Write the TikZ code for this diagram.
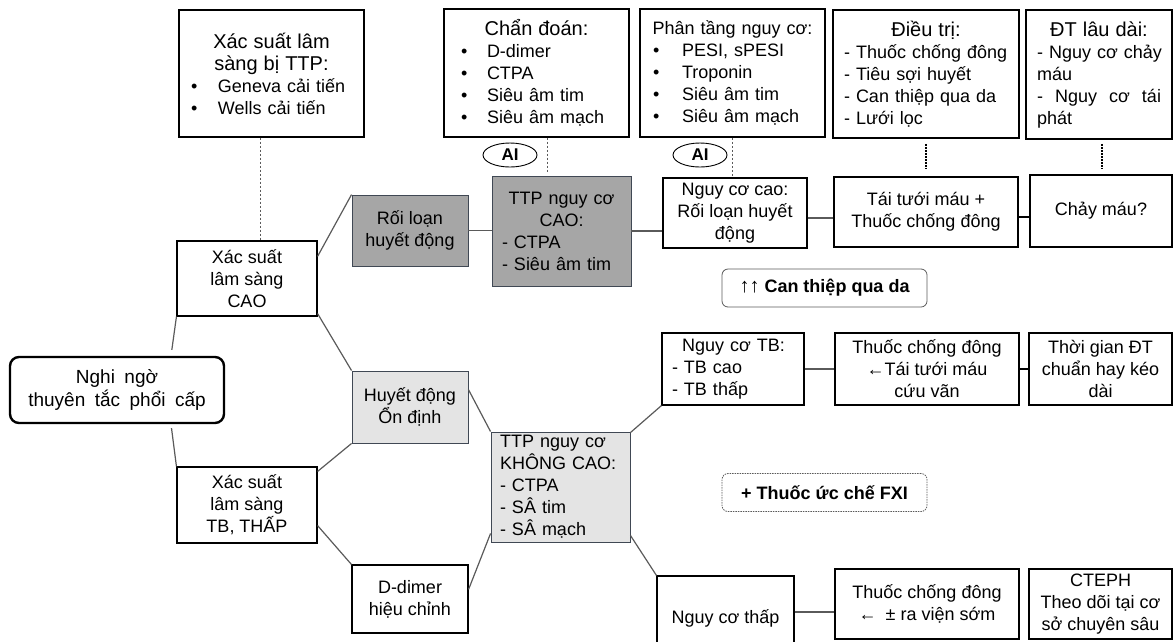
\documentclass[tikz,border=0pt]{standalone}
\usepackage{fontspec}
\setmainfont{Liberation Sans}
\usepackage{xcolor}
\usepackage{tikz}
\usetikzlibrary{calc,shapes.geometric}
\definecolor{FlowDarkGray}{RGB}{166,166,166}
\definecolor{FlowLightGray}{RGB}{228,228,228}
\definecolor{FlowEdge}{RGB}{64,72,84}
\definecolor{FlowLine}{RGB}{90,90,90}
\newcommand{\boxfont}{\fontsize{18}{22}\selectfont}
\newcommand{\bitem}[2][27pt]{\makebox[#1][l]{\textbullet}#2}
\newcommand{\ctitle}[1]{\makebox[\linewidth][c]{#1}}
\newcommand{\btitle}[1]{\makebox[\linewidth][c]{\fontsize{20}{22}\selectfont #1}}

\begin{document}
\begin{tikzpicture}[
x=1pt,y=-1pt,
box/.style={
draw=black,
line width=1.1pt,
inner sep=0pt,
align=center,
font=\boxfont
},
thickbox/.style={box,line width=1.8pt},
darkbox/.style={box,fill=FlowDarkGray,draw=FlowEdge,line width=0.9pt},
lightbox/.style={box,fill=FlowLightGray,draw=FlowEdge,line width=0.9pt},
note/.style={
draw=FlowLine,
line width=0.8pt,
rounded corners=6pt,
inner sep=0pt,
minimum width=205pt,
minimum height=38pt,
font=\fontsize{18}{20}\selectfont\bfseries
},
tag/.style={
ellipse,
draw=black,
line width=0.9pt,
inner sep=0pt,
minimum width=54pt,
minimum height=24pt,
font=\fontsize{17}{18}\selectfont\bfseries
},
link/.style={draw=FlowLine,line width=1.2pt},
joint/.style={draw=black,line width=2pt},
hint/.style={draw=FlowLine,line width=1.5pt,dash pattern=on 2pt off 2pt},
dense/.style={draw=black,line width=2pt,dash pattern=on 1.6pt off 1.4pt}
]
\useasboundingbox (0,0) rectangle (1174,641);

\node[box,align=left,text width=161pt,inner xsep=12pt,minimum height=127pt] (xstop) at (271.5,73.5)
{\btitle{Xác suất lâm}\\\btitle{sàng bị TTP:}\\\bitem{Geneva cải tiến}\\\bitem{Wells cải tiến}};
\node[box,align=left,text width=151pt,inner xsep=17pt,minimum height=128pt] (chandoan) at (536.5,73)
{\btitle{Chẩn đoán:}\\\bitem[26pt]{D-dimer}\\\bitem[26pt]{CTPA}\\\bitem[26pt]{Siêu âm tim}\\\bitem[26pt]{Siêu âm mạch}};
\node[thickbox,align=left,text width=159pt,inner xsep=13pt,minimum height=128pt] (phantang) at (732.5,73)
{\ctitle{Phân tầng nguy cơ:}\\\bitem[29pt]{PESI, sPESI}\\\bitem[29pt]{Troponin}\\\bitem[29pt]{Siêu âm tim}\\\bitem[29pt]{Siêu âm mạch}};
\node[thickbox,align=left,text width=164pt,inner xsep=11pt,minimum height=128pt] (dieutri) at (926,74)
{\btitle{Điều trị:}\\- Thuốc chống đông\\- Tiêu sợi huyết\\- Can thiệp qua da\\- Lưới lọc};
\node[thickbox,align=left,text width=124pt,inner xsep=11pt,minimum height=129pt] (dtlaudai) at (1099,74.5)
{\btitle{ĐT lâu dài:}\\\mbox{- Nguy cơ chảy}\\máu\\-\hfill Nguy\hfill cơ\hfill tái\\phát};

\node[tag] (ai1) at (510,155) {AI};
\node[tag] (ai2) at (700,155) {AI};

\node[thickbox,rounded corners=9pt,line width=2.4pt,minimum width=214pt,minimum height=66pt,
font=\fontsize{19}{23}\selectfont] (nghingo) at (117,390)
{Nghi\enspace ngờ\\thuyên\enspace tắc\enspace phổi\enspace cấp};

\node[box,minimum width=140pt,minimum height=75pt] (xscao) at (247,278.5) {Xác suất\\lâm sàng\\CAO};
\node[box,minimum width=140pt,minimum height=76pt] (xsthap) at (247,505) {Xác suất\\lâm sàng\\TB, THẤP};

\node[darkbox,minimum width=116pt,minimum height=71pt] (rlhd) at (410,230.5) {Rối loạn\\huyết động};
\node[lightbox,minimum width=116pt,minimum height=72pt] (hdod) at (410,407) {Huyết động\\Ổn định};
\node[box,minimum width=116pt,minimum height=68pt] (ddimer) at (410,599) {D-dimer\\hiệu chỉnh};

\node[darkbox,align=left,text width=119pt,inner xsep=10pt,minimum height=110pt] (ttpcao) at (561.5,231)
{\ctitle{TTP nguy cơ}\\\ctitle{CAO:}\\- CTPA\\- Siêu âm tim};
\node[lightbox,align=left,text width=121pt,inner xsep=9pt,minimum height=110pt] (ttpkc) at (560.5,487)
{TTP nguy cơ\\KHÔNG CAO:\\- CTPA\\- SÂ tim\\- SÂ mạch};

\node[box,minimum width=144pt,minimum height=70pt] (nccao) at (735,213) {Nguy cơ cao:\\Rối loạn huyết\\động};
\node[box,align=left,text width=122pt,inner xsep=10pt,minimum height=72pt] (nctb) at (733,369)
{\hspace*{10pt}Nguy cơ TB:\\- TB cao\\- TB thấp};
\node[box,minimum width=137pt,minimum height=84pt] (ncthap) at (725.5,618) {Nguy cơ thấp};

\node[note] (canthiep) at (824.5,288) {{\mdseries\fontsize{20}{20}\selectfont ↑↑} Can thiệp qua da};
\node[note,dash pattern=on 1.5pt off 1pt] (fxi) at (824.5,492.5) {+ Thuốc ức chế FXI};

\node[thickbox,minimum width=184pt,minimum height=70pt] (taituoi) at (926,212) {Tái tưới máu +\\Thuốc chống đông};
\node[thickbox,minimum width=184pt,minimum height=72pt] (tcdcuu) at (927,369) {Thuốc chống đông\\←Tái tưới máu\\cứu vãn};
\node[thickbox,minimum width=184pt,minimum height=70pt] (tcdsom) at (927,604) {Thuốc chống đông\\←\enspace ± ra viện sớm};

\node[thickbox,minimum width=142pt,minimum height=72pt] (chaymau) at (1101,211) {Chảy máu?};
\node[thickbox,minimum width=143pt,minimum height=72pt] (thoigian) at (1100.5,369) {Thời gian ĐT\\chuẩn hay kéo\\dài};
\node[thickbox,minimum width=143pt,minimum height=70pt] (cteph) at (1100.5,604) {CTEPH\\Theo dõi tại cơ\\sở chuyên sâu};

\coordinate (nccaoR) at ([yshift=-5pt]nccao.east);
\coordinate (taituoiR) at ([yshift=-5pt]taituoi.east);
\coordinate (ncthapR) at ([yshift=6pt]ncthap.east);
\coordinate (chandoanB) at ([xshift=11pt]chandoan.south);
\coordinate (xstopB) at ([xshift=-11pt]xstop.south);
\coordinate (dtlaudaiB) at ([xshift=3pt]dtlaudai.south);

\draw[link,shorten <=6pt] ([xshift=54pt]nghingo.north) -- (xscao.south west);
\draw[link,shorten <=4pt] ([xshift=54pt]nghingo.south) -- (xsthap.north west);
\draw[link] ([yshift=-16pt]xscao.north east) -- (rlhd.north west);
\draw[link] ([yshift=3pt]xscao.south east) -- (hdod.north west);
\draw[link] ([yshift=-5pt]xsthap.north east) -- (hdod.south west);
\draw[link] ([yshift=18pt]xsthap.south east) -- (ddimer.north west);
\draw[link] (rlhd.east) -- (ttpcao.west |- rlhd.east);
\draw[link] (ttpcao.east) -- (nccao.west |- ttpcao.east);
\draw[link] ([yshift=-19pt]hdod.north east) -- (ttpkc.north west);
\draw[link] ([yshift=-25pt]ddimer.north east) -- ([yshift=9pt]ttpkc.south west);
\draw[link] ([yshift=-1pt]ttpkc.north east) -- (nctb.south west);
\draw[link] ([yshift=7pt]ttpkc.south east) -- (ncthap.north west);
\draw[link] (nccaoR) -- (taituoi.west |- nccaoR);
\draw[link] (nctb.east) -- (tcdcuu.west);
\draw[link] (ncthapR) -- (tcdsom.west |- ncthapR);
\draw[joint] (taituoiR) -- (chaymau.west |- taituoiR);
\draw[joint] (tcdcuu.east) -- (thoigian.west);

\draw[hint] (xstopB) -- (xstopB |- xscao.north);
\draw[hint,shorten >=4pt] (chandoanB) -- (chandoanB |- ttpcao.north);
\draw[hint] (phantang.south) -- (phantang.south |- nccao.north);
\draw[dense,shorten <=5pt,shorten >=7pt] (dieutri.south) -- (taituoi.north);
\draw[dense,shorten <=4pt,shorten >=5pt] (dtlaudaiB) -- (dtlaudaiB |- chaymau.north);

\end{tikzpicture}
\end{document}
